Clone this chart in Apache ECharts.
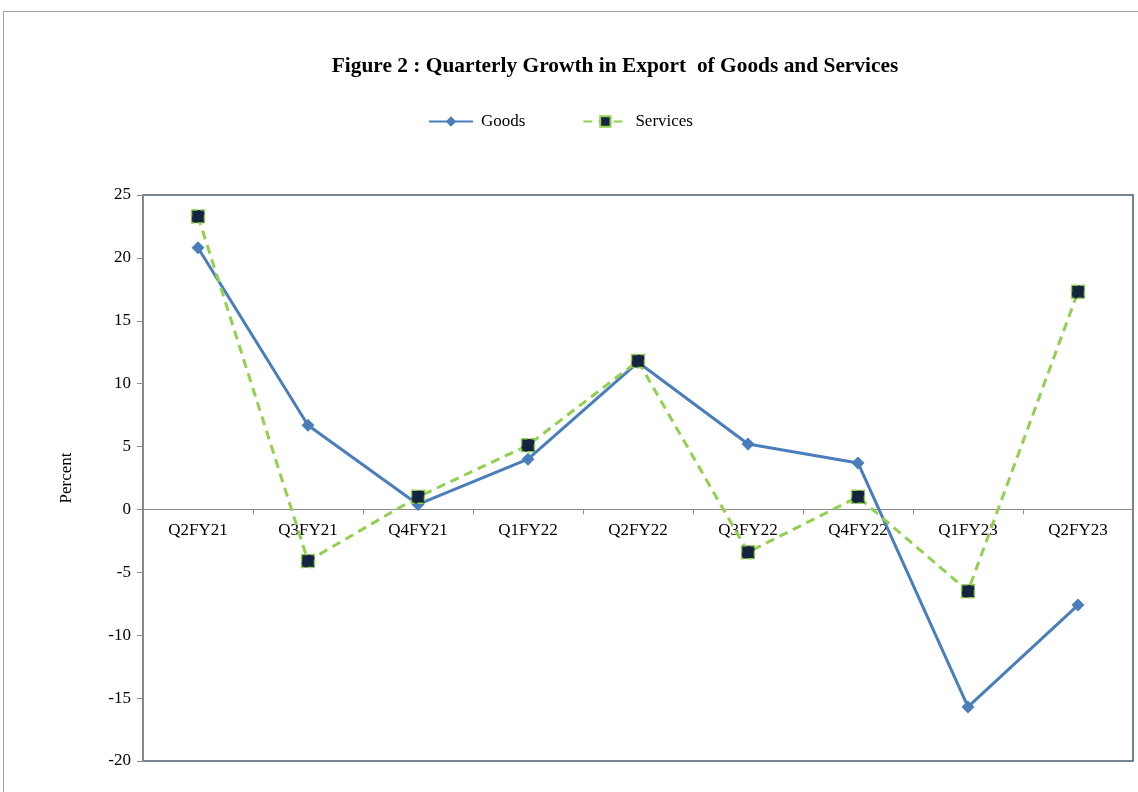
<!DOCTYPE html>
<html>
<head>
<meta charset="utf-8">
<script src="https://cdn.jsdelivr.net/npm/echarts@6/dist/echarts.min.js"></script>
<style>
html,body{margin:0;padding:0;background:#fff;}
#chart{width:1138px;height:792px;}
</style>
</head>
<body>
<div id="chart"></div>
<script>
const categories = ['Q2FY21','Q3FY21','Q4FY21','Q1FY22','Q2FY22','Q3FY22','Q4FY22','Q1FY23','Q2FY23'];
const goods = [20.8, 6.7, 0.4, 4.0, 11.7, 5.2, 3.7, -15.7, -7.6];
const services = [23.3, -4.1, 1.0, 5.1, 11.8, -3.4, 1.0, -6.5, 17.3];
const yTicks = {min: -20, max: 25, interval: 5};

const FONT = '"Liberation Serif", "Times New Roman", serif';
const GRID = {left: 143, right: 5, top: 195, bottom: 31};
const gridH = 792 - GRID.top - GRID.bottom;
const zeroOffset = -gridH * (0 - yTicks.min) / (yTicks.max - yTicks.min);

const chart = echarts.init(document.getElementById('chart'));
chart.setOption({
  backgroundColor: '#fff',
  animation: false,
  graphic: [{
    type: 'rect', silent: true, z: -1,
    shape: {x: 3.5, y: 11.5, width: 1300, height: 1000},
    style: {fill: 'none', stroke: '#a0a0a0', lineWidth: 1}
  }],
  title: {
    text: 'Figure 2 : Quarterly Growth in Export  of Goods and Services',
    left: 610, top: 51, textAlign: 'center',
    textStyle: {fontFamily: FONT, fontWeight: 'bold', fontSize: 21.4, color: '#000'}
  },
  legend: {
    top: 108, left: 423,
    itemGap: 57, itemWidth: 44, itemHeight: 13,
    textStyle: {fontFamily: FONT, fontSize: 17, color: '#000', padding: [0, 0, 0, 3]},
    data: ['Goods', 'Services']
  },
  grid: Object.assign({
    show: true, borderColor: '#4a5b6e', borderWidth: 1.5, backgroundColor: 'transparent'
  }, GRID),
  xAxis: {
    type: 'category', data: categories, boundaryGap: true,
    position: 'bottom', offset: zeroOffset,
    axisLine: {onZero: false, lineStyle: {color: '#8c8c8c', width: 1}},
    axisTick: {show: true, inside: false, length: 5, lineStyle: {color: '#8c8c8c'}},
    axisLabel: {fontFamily: FONT, fontSize: 17, color: '#000', margin: 13}
  },
  yAxis: {
    type: 'value', min: yTicks.min, max: yTicks.max, interval: yTicks.interval,
    name: 'Percent', nameLocation: 'middle', nameGap: 68, nameRotate: 90,
    nameTextStyle: {fontFamily: FONT, fontSize: 17, color: '#000'},
    axisLine: {show: true, lineStyle: {color: '#8c8c8c'}},
    axisTick: {show: true, length: 6, lineStyle: {color: '#8c8c8c'}},
    splitLine: {show: false},
    axisLabel: {fontFamily: FONT, fontSize: 17, color: '#000', margin: 12}
  },
  series: [{
    name: 'Goods', type: 'line', data: goods,
    symbol: 'diamond', symbolSize: 13,
    lineStyle: {color: '#4a7ebb', width: 3},
    itemStyle: {color: '#4a7ebb'},
    z: 2
  }, {
    name: 'Services', type: 'line', data: services,
    symbol: 'rect', symbolSize: 13,
    lineStyle: {color: '#92d050', width: 3, type: [9, 6]},
    itemStyle: {color: '#14243f', borderColor: '#92d050', borderWidth: 1.5, borderType: 'dashed'},
    z: 3
  }]
});
</script>
</body>
</html>
